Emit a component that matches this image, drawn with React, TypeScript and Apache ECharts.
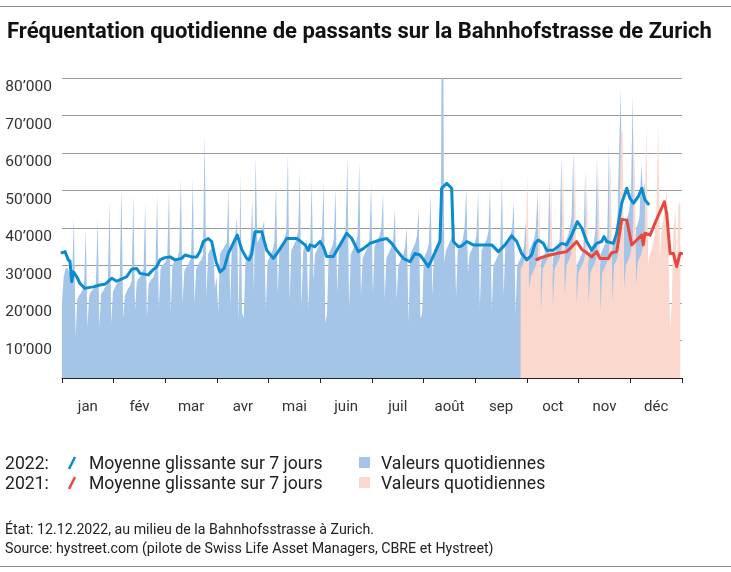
import React, { useEffect, useRef } from 'react';
import * as echarts from 'echarts';

const FONT = 'Roboto, "Noto Sans", sans-serif';

const months = ['jan', 'fév', 'mar', 'avr', 'mai', 'juin', 'juil', 'août', 'sep', 'oct', 'nov', 'déc'];

// Daily counts 2022, in thousands, starting Sat 1 Jan (rows: Sat..Fri)
const daily2022: number[] = [
  20, 27, 29, 29.5, 28.5, 28, 27.5,
  42.8, 11, 21, 22, 22.5, 23.5, 25,
  39.5, 13.7, 22, 23, 23.5, 24, 25.5,
  42.6, 13.7, 22.5, 23, 24, 24.5, 26,
  47, 14.6, 23, 24, 25, 25.5, 27,
  51.2, 16, 22, 23, 24, 24.5, 26,
  48.8, 18, 25.5, 26.5, 27, 28, 29,
  46.6, 16, 25, 26, 26.5, 27, 29,
  48.8, 18.6, 29, 30, 30.5, 31, 32.5,
  50.1, 17.3, 30, 31, 31.5, 32, 34,
  53.2, 20, 28.5, 29.5, 30, 31, 32,
  53.3, 20, 29, 30, 31, 31.5, 33,
  65.2, 21.6, 33, 34, 34.5, 35, 24,
  27, 17.6, 33, 34, 34.5, 35.5, 36,
  50.6, 19, 36, 37, 38, 43, 15,
  54.6, 17.3, 16, 31, 32, 33, 35,
  47.5, 22.6, 59, 36, 37, 38, 40,
  42, 18.1, 31, 32, 33, 34, 36,
  51.9, 22.7, 34, 35, 36, 37, 39,
  59.9, 20.8, 34, 35, 36, 37, 39,
  55, 19, 34, 35, 37, 18, 33,
  52.8, 26, 33, 34, 35, 36, 38,
  52.4, 14.6, 17, 33, 34, 35, 37,
  50.6, 22.7, 34, 35, 36, 37, 40,
  59, 18.6, 33, 34, 35, 36, 38,
  57.7, 22, 32, 33, 34, 35, 37,
  51.9, 22.5, 35, 36, 37, 38, 40,
  49.2, 21, 32, 33, 34, 35, 37,
  45.2, 21, 30, 31, 32, 33, 35,
  40.3, 14.6, 33, 34, 35, 36, 38,
  45.2, 16, 17, 32, 33, 34, 36,
  49.2, 22, 34, 35, 36, 37, 40,
  140, 30.6, 34, 35, 36, 37, 39,
  41.3, 21.7, 34, 35, 36, 37, 40,
  50.6, 28, 33, 34, 35, 36, 38,
  50.1, 18.6, 34, 35, 36, 37, 39,
  51, 18, 30, 31, 32, 33, 35,
  53.2, 22, 35, 36, 37, 38, 40,
  47, 17, 30, 31, 32, 33, 35,
  42.1, 20, 34, 35, 36, 37, 40,
  49.7, 18, 31, 32, 33, 34, 36,
  53.2, 20, 32, 33, 34, 35, 37,
  59.9, 22, 36, 37, 38, 40, 43,
  60.8, 20, 30, 31, 32, 33, 35,
  55.5, 22, 33, 34, 35, 36, 39,
  59.5, 16.4, 33, 34, 35, 36, 38,
  63, 20.8, 36, 37, 39, 42, 61.7,
  77.3, 28.3, 41, 42, 43, 45, 50,
  75.5, 28.8, 40, 41, 43, 57, 50,
  52, 35, 38,
];

// Daily counts 2021, in thousands, from Tue 28 Sep (day 270) to Fri 31 Dec
const start2021 = 270;
const daily2021: number[] = [
  29, 30, 31, 33,
  54.6, 23.5, 27, 28, 29, 30, 32,
  49.7, 18.1, 29, 30, 31, 32, 34,
  53.2, 19, 29, 30, 31, 32, 34,
  57, 21.7, 30, 31, 32, 34, 37,
  60, 19.9, 28, 29, 30, 31, 33,
  55, 20, 28, 29, 30, 31, 33,
  55, 17.2, 28, 29, 30, 31, 33,
  60, 20, 30, 31, 32, 36, 65,
  66, 24, 30, 31, 32, 34, 37,
  62, 25, 31, 32, 33, 35, 39,
  67.5, 30, 33, 34, 36, 38, 45,
  67.9, 32, 40, 42, 46, 50, 35,
  13.2, 20, 40, 45, 30, 47, 46,
];

// 7-day moving average 2022 [day of year, thousands]
const ma2022: [number, number][] = [
  [0, 33.4], [1.8, 33.7], [3.7, 31.5], [4.7, 31.2], [5.7, 25.7], [6.7, 28.3], [8.7, 27], [10.6, 25.2],
  [13.5, 23.9], [15.5, 24.1], [18.4, 24.3], [22.4, 24.8], [25.3, 25], [29.3, 26.6], [32.2, 25.8],
  [35.1, 26.4], [38.1, 27], [41, 29], [44, 29.2], [45.9, 27.9], [50.8, 27.5], [52.8, 28.5], [55.8, 29.7],
  [57.7, 31.5], [60.6, 32.1], [63.6, 32.3], [66.5, 31.5], [70.5, 31.9], [72.4, 32.8], [76.4, 32.3],
  [79.3, 32.3], [81.2, 33.7], [83.2, 36.4], [86.1, 37.2], [88.1, 36.4], [90.7, 31], [93, 28.3],
  [95.4, 29.2], [97.9, 33.2], [100.8, 35.9], [103.2, 38.1], [105.8, 34.3], [108.7, 31.9], [110.2, 31.5],
  [111.7, 33], [113.6, 39], [117.6, 39], [120.5, 34.1], [124.4, 31.9], [127.3, 33.7], [132.3, 37.2],
  [138.2, 37.2], [143.1, 35.5], [145, 34], [146, 35.5], [148.9, 35], [151.9, 36.4], [153.8, 35],
  [155.8, 32.4], [159.7, 32.4], [163.7, 35.5], [167.6, 38.6], [170.6, 37.2], [174.4, 33.7], [177.4, 34.5],
  [181.3, 35.9], [187.2, 36.8], [191.2, 37.2], [194.1, 35.9], [197, 34.1], [200.9, 31.9], [204.9, 31],
  [207.8, 33.2], [210.8, 32.8], [213.7, 31], [215.6, 29.7], [217.6, 31.5], [220.6, 34.5], [222.5, 36.4],
  [223.5, 50.6], [226.5, 51.9], [229.4, 50.6], [230.4, 36.4], [233.3, 35], [235.3, 35.2], [238.3, 36.4],
  [242.1, 35.5], [246.1, 35.5], [253, 35.5], [256.9, 33.7], [260.8, 35.5], [264.7, 37.9], [267.7, 36.4],
  [270.6, 33.2], [273.6, 31.5], [276.5, 32.8], [278.5, 35.9], [280.4, 36.8], [283.4, 35.9], [285.3, 34.1],
  [289.3, 34.1], [294.2, 35.9], [297.1, 35.5], [300.1, 38.1], [303.4, 41.7], [306, 40], [308.9, 36.4],
  [311.8, 34.1], [314.8, 35.9], [317.7, 36.4], [319.1, 37.7], [320.7, 36.4], [324.6, 35.9], [326.6, 38.6],
  [329.5, 46.6], [332.5, 50.6], [334.4, 47.9], [336.4, 46.6], [339.3, 48.4], [341.3, 50.6], [343.2, 47.5],
  [345.2, 46.4],
];

// 7-day moving average 2021 [day of year, thousands]
const ma2021: [number, number][] = [
  [279.5, 31.6], [283.3, 32.3], [287.3, 32.8], [291.2, 33.2], [297.1, 33.7], [300.1, 35], [303, 36.4],
  [306, 34.3], [308.9, 33.4], [311.8, 32.3], [314.8, 33.7], [316.7, 31.9], [321.6, 31.9], [323.6, 33.4],
  [326.6, 33.7], [329.5, 42.3], [332.5, 42.1], [335.4, 35.5], [338.4, 36.8], [341.3, 38.1], [342.2, 35.5],
  [343.2, 38.6], [346.2, 38.1], [349.1, 41.3], [352.1, 44.4], [354.6, 47], [356, 43.8], [358, 33.2],
  [359.9, 33.2], [361.9, 29.7], [363.8, 33.2], [364.8, 33.2],
];

const TITLE = 'Fréquentation quotidienne de passants sur la Bahnhofstrasse de Zurich';
const legendRows = [
  { year: '2022:', line: '#0b8bd0', fill: '#a4c4e8' },
  { year: '2021:', line: '#e8473d', fill: '#fad8ce' },
];
const NOTE1 = 'État: 12.12.2022, au milieu de la Bahnhofsstrasse à Zurich.';
const NOTE2 = 'Source: hystreet.com (pilote de Swiss Life Asset Managers, CBRE et Hystreet)';

export default function App() {
  const ref = useRef<HTMLDivElement>(null);
  useEffect(() => {
    const chart = echarts.init(ref.current!, null, { renderer: 'svg' });
    const legendGraphics: any[] = [];
    const lf = 17.6;
    legendRows.forEach((r, i) => {
      const y = 463 + i * 20;
      legendGraphics.push(
        { type: 'text', x: 5, y, style: { text: r.year, fontSize: lf, fill: '#222', fontFamily: FONT, verticalAlign: 'middle' } },
        { type: 'line', shape: { x1: 69, y1: y + 6, x2: 75, y2: y - 6 }, style: { stroke: r.line, lineWidth: 2.5 } },
        { type: 'text', x: 89, y, style: { text: 'Moyenne glissante sur 7 jours', fontSize: lf, fill: '#222', fontFamily: FONT, verticalAlign: 'middle' } },
        { type: 'rect', shape: { x: 359, y: y - 6, width: 11, height: 11 }, style: { fill: r.fill } },
        { type: 'text', x: 381, y, style: { text: 'Valeurs quotidiennes', fontSize: lf, fill: '#222', fontFamily: FONT, verticalAlign: 'middle' } },
      );
    });
    chart.setOption({
      animation: false,
      grid: { left: 62, right: 49, top: 78, bottom: 194, containLabel: false },
      xAxis: [
        {
          type: 'category',
          data: months,
          boundaryGap: true,
          axisLine: { lineStyle: { color: '#222', width: 1 } },
          axisTick: { show: true, interval: 0, length: 5, lineStyle: { color: '#222' } },
          axisLabel: { interval: 0, color: '#333', fontSize: 15, margin: 20, fontFamily: FONT },
          splitLine: { show: false },
        },
        { type: 'value', min: 0, max: 365, show: false },
      ],
      yAxis: {
        type: 'value',
        min: 0,
        max: 80,
        interval: 10,
        axisLine: { show: false },
        axisTick: { show: false },
        splitLine: { lineStyle: { color: '#999', width: 1 } },
        axisLabel: {
          formatter: (v: number) => (v === 0 ? '' : `${v}’000`),
          verticalAlign: 'top',
          margin: 10,
          color: '#333',
          fontSize: 15.5,
          fontFamily: FONT,
        },
      },
      series: [
        {
          type: 'line',
          xAxisIndex: 1,
          data: daily2022.map((v, i) => [i, v]),
          showSymbol: false,
          lineStyle: { width: 0 },
          areaStyle: { color: '#a4c4e8', opacity: 1 },
          z: 1,
          silent: true,
        },
        {
          type: 'line',
          xAxisIndex: 1,
          data: daily2021.map((v, i) => [start2021 + i, v]),
          showSymbol: false,
          lineStyle: { width: 0 },
          areaStyle: { color: '#fad8ce', opacity: 1 },
          z: 2,
          silent: true,
        },
        {
          type: 'line',
          xAxisIndex: 1,
          data: ma2022,
          showSymbol: false,
          lineStyle: { width: 3, color: '#0b8bd0', join: 'round', cap: 'round' },
          z: 3,
          silent: true,
        },
        {
          type: 'line',
          xAxisIndex: 1,
          data: ma2021,
          showSymbol: false,
          lineStyle: { width: 3, color: '#e8473d', join: 'round', cap: 'round' },
          z: 4,
          silent: true,
        },
      ],
      graphic: [
        { type: 'rect', shape: { x: 0, y: 6, width: 731, height: 1 }, style: { fill: '#888' } },
        { type: 'text', x: 7, y: 30, style: { text: TITLE, fontSize: 22, fontWeight: 'bold', fill: '#111', fontFamily: FONT, verticalAlign: 'middle' } },
        ...legendGraphics,
        { type: 'text', x: 5, y: 529, style: { text: NOTE1, fontSize: 14.2, fill: '#222', fontFamily: FONT, verticalAlign: 'middle' } },
        { type: 'text', x: 5, y: 548, style: { text: NOTE2, fontSize: 14.2, fill: '#222', fontFamily: FONT, verticalAlign: 'middle' } },
        { type: 'rect', shape: { x: 0, y: 566, width: 731, height: 1 }, style: { fill: '#888' } },
      ],
    });
    return () => chart.dispose();
  }, []);
  return <div ref={ref} style={{ position: 'fixed', left: 0, top: 0, width: 731, height: 572 }} />;
}
